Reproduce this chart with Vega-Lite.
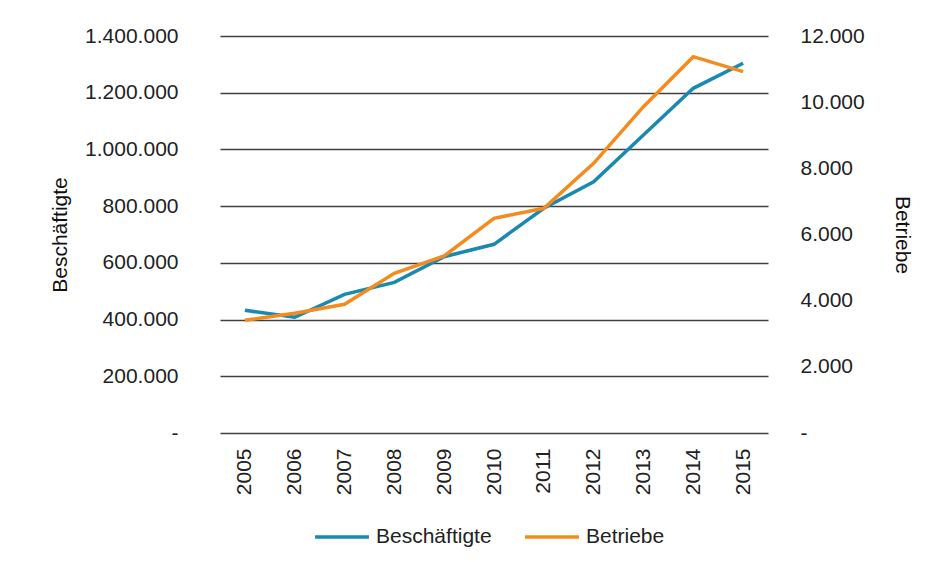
{
  "$schema": "https://vega.github.io/schema/vega-lite/v6.json",
  "width": 548,
  "height": 397,
  "padding": {"left": 220, "top": 36, "right": 171, "bottom": 137},
  "autosize": {"type": "none"},
  "background": "white",
  "config": {
    "view": {"stroke": null},
    "font": "Liberation Sans"
  },
  "data": {
    "values": [
      {"Jahr": "2005", "Beschäftigte": 432700, "Betriebe": 3406},
      {"Jahr": "2006", "Beschäftigte": 408000, "Betriebe": 3618},
      {"Jahr": "2007", "Beschäftigte": 489000, "Betriebe": 3890},
      {"Jahr": "2008", "Beschäftigte": 531000, "Betriebe": 4827},
      {"Jahr": "2009", "Beschäftigte": 621700, "Betriebe": 5350},
      {"Jahr": "2010", "Beschäftigte": 665400, "Betriebe": 6489},
      {"Jahr": "2011", "Beschäftigte": 792300, "Betriebe": 6791},
      {"Jahr": "2012", "Beschäftigte": 886000, "Betriebe": 8152},
      {"Jahr": "2013", "Beschäftigte": 1050900, "Betriebe": 9864},
      {"Jahr": "2014", "Beschäftigte": 1215500, "Betriebe": 11375},
      {"Jahr": "2015", "Beschäftigte": 1303700, "Betriebe": 10922}
    ]
  },
  "encoding": {
    "x": {
      "field": "Jahr",
      "type": "ordinal",
      "title": null,
      "scale": {"type": "point", "padding": 0.5},
      "axis": {
        "domain": false,
        "ticks": false,
        "grid": false,
        "labelAngle": -90,
        "labelAlign": "right",
        "labelBaseline": "middle",
        "labelPadding": 15,
        "labelFont": "Liberation Sans",
        "labelFontSize": 21,
        "labelColor": "#222222"
      }
    }
  },
  "layer": [
    {
      "mark": {"type": "line", "strokeWidth": 3.5},
      "encoding": {
        "y": {
          "field": "Beschäftigte",
          "type": "quantitative",
          "scale": {"domain": [0, 1400000], "nice": false},
          "axis": {
            "orient": "left",
            "values": [0, 200000, 400000, 600000, 800000, 1000000, 1200000, 1400000],
            "labelExpr": "datum.value == 0 ? '-\u2007' : replace(replace(format(datum.value, ','), ',', '.'), ',', '.')",
            "domain": false,
            "ticks": false,
            "grid": true,
            "gridColor": "#404040",
            "gridWidth": 1.5,
            "gridOpacity": 1,
            "labelPadding": 42,
            "labelFont": "Liberation Sans",
            "labelFontSize": 21,
            "labelColor": "#222222",
            "title": "Beschäftigte",
            "titleFont": "Liberation Sans",
            "titleFontSize": 21,
            "titleFontWeight": "normal",
            "titleColor": "#111111",
            "titlePadding": 14
          }
        },
        "color": {
          "datum": "Beschäftigte",
          "type": "nominal",
          "scale": {"domain": ["Beschäftigte", "Betriebe"], "range": ["#1A89B0", "#F38B1F"]},
          "legend": {
            "title": null,
            "orient": "none",
            "legendX": 93,
            "legendY": 472,
            "direction": "horizontal",
            "symbolType": "stroke",
            "symbolSize": 2900,
            "symbolStrokeWidth": 3.5,
            "labelFont": "Liberation Sans",
            "labelFontSize": 21,
            "labelColor": "#222222",
            "labelOffset": 5,
            "columnPadding": 26
          }
        }
      }
    },
    {
      "mark": {"type": "line", "strokeWidth": 3.5},
      "encoding": {
        "y": {
          "field": "Betriebe",
          "type": "quantitative",
          "scale": {"domain": [0, 12000], "nice": false},
          "axis": {
            "orient": "right",
            "values": [0, 2000, 4000, 6000, 8000, 10000, 12000],
            "labelExpr": "datum.value == 0 ? '-' : replace(format(datum.value, ','), ',', '.')",
            "domain": false,
            "ticks": false,
            "grid": false,
            "labelPadding": 32,
            "labelFont": "Liberation Sans",
            "labelFontSize": 21,
            "labelColor": "#222222",
            "title": "Betriebe",
            "titleFont": "Liberation Sans",
            "titleFontSize": 21,
            "titleFontWeight": "normal",
            "titleColor": "#111111",
            "titleAngle": 90,
            "titlePadding": 27
          }
        },
        "color": {"datum": "Betriebe", "type": "nominal"}
      }
    }
  ],
  "resolve": {"scale": {"y": "independent"}}
}
